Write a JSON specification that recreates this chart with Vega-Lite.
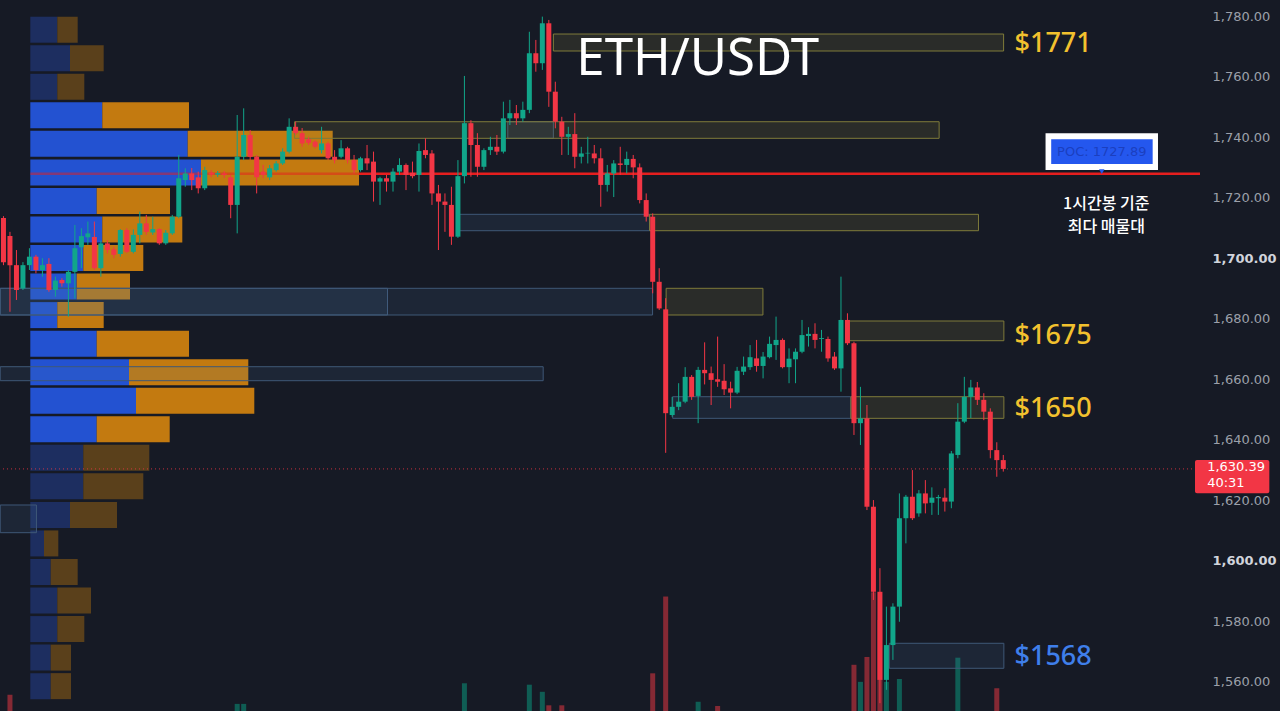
{
  "$schema": "https://vega.github.io/schema/vega-lite/v6.json",
  "width": 1200,
  "height": 711,
  "autosize": {"type": "none"},
  "padding": {"left": 0, "top": 0, "right": 80, "bottom": 0},
  "background": "#161a25",
  "config": {
    "view": {"stroke": null},
    "axisX": {"labels": false, "ticks": false, "domain": false, "grid": true, "gridColor": "#232734", "gridWidth": 1},
    "axisY": {"grid": true, "gridColor": "#232734", "gridWidth": 1, "domain": false, "ticks": false, "labelFont": "DejaVu Sans", "labelFontSize": 13, "labelPadding": 12}
  },
  "datasets": {
    "candles": [
      {"t":-1,"o":1713.3,"h":1713.9,"l":1697.7,"c":1698.7},
      {"t":0,"o":1707.3,"h":1708.7,"l":1682.3,"c":1697.7},
      {"t":1,"o":1697.7,"h":1702.7,"l":1686.2,"c":1689.5},
      {"t":2,"o":1690.0,"h":1698.7,"l":1689.5,"c":1697.7},
      {"t":3,"o":1697.7,"h":1703.3,"l":1696.1,"c":1700.5},
      {"t":4,"o":1700.5,"h":1701.1,"l":1695.0,"c":1696.1},
      {"t":5,"o":1696.1,"h":1700.0,"l":1693.9,"c":1697.7},
      {"t":6,"o":1698.1,"h":1700.0,"l":1688.9,"c":1689.5},
      {"t":7,"o":1689.5,"h":1693.9,"l":1687.3,"c":1692.6},
      {"t":8,"o":1692.8,"h":1693.4,"l":1690.6,"c":1691.7},
      {"t":9,"o":1691.7,"h":1696.1,"l":1680.7,"c":1695.5},
      {"t":10,"o":1695.5,"h":1711.0,"l":1686.7,"c":1703.3},
      {"t":11,"o":1703.6,"h":1709.9,"l":1696.7,"c":1707.3},
      {"t":12,"o":1706.9,"h":1712.1,"l":1704.4,"c":1708.2},
      {"t":13,"o":1707.0,"h":1712.1,"l":1696.1,"c":1696.7},
      {"t":14,"o":1696.7,"h":1705.8,"l":1693.9,"c":1704.9},
      {"t":15,"o":1704.9,"h":1706.0,"l":1701.6,"c":1702.7},
      {"t":16,"o":1702.9,"h":1703.8,"l":1700.0,"c":1701.1},
      {"t":17,"o":1701.4,"h":1709.6,"l":1700.5,"c":1709.3},
      {"t":18,"o":1709.3,"h":1709.9,"l":1701.7,"c":1702.1},
      {"t":19,"o":1702.1,"h":1709.5,"l":1701.6,"c":1707.7},
      {"t":20,"o":1707.7,"h":1715.4,"l":1704.9,"c":1711.5},
      {"t":21,"o":1711.5,"h":1714.3,"l":1707.7,"c":1708.7},
      {"t":22,"o":1708.5,"h":1713.7,"l":1707.7,"c":1709.6},
      {"t":23,"o":1709.6,"h":1709.9,"l":1704.4,"c":1704.9},
      {"t":24,"o":1704.9,"h":1709.3,"l":1704.4,"c":1708.4},
      {"t":25,"o":1708.2,"h":1714.3,"l":1707.7,"c":1713.7},
      {"t":26,"o":1713.7,"h":1734.1,"l":1713.2,"c":1726.4},
      {"t":27,"o":1725.8,"h":1729.7,"l":1723.6,"c":1728.0},
      {"t":28,"o":1728.0,"h":1729.8,"l":1722.5,"c":1725.8},
      {"t":29,"o":1726.7,"h":1728.6,"l":1721.4,"c":1723.1},
      {"t":30,"o":1723.1,"h":1730.2,"l":1722.5,"c":1729.1},
      {"t":31,"o":1728.3,"h":1729.1,"l":1726.8,"c":1727.6},
      {"t":32,"o":1727.6,"h":1728.8,"l":1726.8,"c":1728.1},
      {"t":33,"o":1728.0,"h":1728.8,"l":1726.5,"c":1727.5},
      {"t":34,"o":1726.7,"h":1727.5,"l":1713.2,"c":1717.6},
      {"t":35,"o":1717.6,"h":1747.3,"l":1708.2,"c":1733.5},
      {"t":36,"o":1733.5,"h":1749.5,"l":1732.4,"c":1740.7},
      {"t":37,"o":1740.7,"h":1742.3,"l":1732.4,"c":1733.5},
      {"t":38,"o":1733.5,"h":1734.1,"l":1721.4,"c":1726.7},
      {"t":39,"o":1728.6,"h":1730.8,"l":1726.4,"c":1727.5},
      {"t":40,"o":1726.7,"h":1730.8,"l":1725.8,"c":1729.7},
      {"t":41,"o":1729.1,"h":1732.1,"l":1728.6,"c":1731.3},
      {"t":42,"o":1731.3,"h":1736.3,"l":1730.8,"c":1735.2},
      {"t":43,"o":1735.2,"h":1746.2,"l":1734.6,"c":1743.4},
      {"t":44,"o":1743.4,"h":1745.1,"l":1740.7,"c":1741.3},
      {"t":45,"o":1741.3,"h":1743.0,"l":1736.8,"c":1737.9},
      {"t":46,"o":1739.3,"h":1740.1,"l":1737.4,"c":1738.1},
      {"t":47,"o":1738.5,"h":1739.0,"l":1736.3,"c":1736.8},
      {"t":48,"o":1735.7,"h":1743.4,"l":1734.6,"c":1737.9},
      {"t":49,"o":1737.9,"h":1738.5,"l":1732.4,"c":1733.0},
      {"t":50,"o":1733.5,"h":1735.7,"l":1731.3,"c":1732.4},
      {"t":51,"o":1733.5,"h":1739.0,"l":1733.0,"c":1736.3},
      {"t":52,"o":1736.3,"h":1736.8,"l":1731.3,"c":1732.4},
      {"t":53,"o":1732.4,"h":1734.1,"l":1728.0,"c":1729.1},
      {"t":54,"o":1729.1,"h":1733.5,"l":1728.6,"c":1733.0},
      {"t":55,"o":1733.0,"h":1737.4,"l":1729.1,"c":1731.3},
      {"t":56,"o":1731.9,"h":1735.2,"l":1718.7,"c":1725.3},
      {"t":57,"o":1725.3,"h":1726.9,"l":1717.6,"c":1726.4},
      {"t":58,"o":1726.4,"h":1727.5,"l":1722.0,"c":1725.3},
      {"t":59,"o":1725.3,"h":1729.7,"l":1722.0,"c":1728.6},
      {"t":60,"o":1728.6,"h":1733.0,"l":1727.5,"c":1730.8},
      {"t":61,"o":1730.8,"h":1731.3,"l":1722.5,"c":1727.5},
      {"t":62,"o":1728.2,"h":1731.9,"l":1726.4,"c":1727.1},
      {"t":63,"o":1727.5,"h":1737.9,"l":1722.0,"c":1735.4},
      {"t":64,"o":1735.7,"h":1739.6,"l":1733.0,"c":1734.1},
      {"t":65,"o":1734.6,"h":1735.7,"l":1717.6,"c":1721.4},
      {"t":66,"o":1721.4,"h":1724.2,"l":1702.7,"c":1718.7},
      {"t":67,"o":1718.7,"h":1721.4,"l":1708.7,"c":1717.6},
      {"t":68,"o":1717.6,"h":1723.6,"l":1704.4,"c":1707.1},
      {"t":69,"o":1707.1,"h":1732.4,"l":1706.7,"c":1727.1},
      {"t":70,"o":1727.1,"h":1760.2,"l":1724.7,"c":1744.6},
      {"t":71,"o":1744.6,"h":1745.6,"l":1726.9,"c":1737.4},
      {"t":72,"o":1737.4,"h":1741.3,"l":1726.9,"c":1730.2},
      {"t":73,"o":1730.2,"h":1736.3,"l":1729.1,"c":1735.7},
      {"t":74,"o":1735.7,"h":1740.1,"l":1734.1,"c":1736.8},
      {"t":75,"o":1736.8,"h":1740.7,"l":1734.1,"c":1735.2},
      {"t":76,"o":1735.2,"h":1751.7,"l":1734.6,"c":1746.2},
      {"t":77,"o":1746.2,"h":1752.3,"l":1744.0,"c":1747.9},
      {"t":78,"o":1747.9,"h":1750.6,"l":1744.0,"c":1746.2},
      {"t":79,"o":1746.2,"h":1751.7,"l":1745.1,"c":1749.0},
      {"t":80,"o":1749.0,"h":1774.8,"l":1747.9,"c":1767.7},
      {"t":81,"o":1767.7,"h":1772.1,"l":1761.6,"c":1764.4},
      {"t":82,"o":1764.4,"h":1779.8,"l":1762.2,"c":1777.6},
      {"t":83,"o":1777.6,"h":1778.7,"l":1750.0,"c":1755.0},
      {"t":84,"o":1755.0,"h":1758.3,"l":1742.9,"c":1745.1},
      {"t":85,"o":1745.1,"h":1746.7,"l":1734.1,"c":1740.1},
      {"t":86,"o":1740.1,"h":1743.4,"l":1734.1,"c":1741.0},
      {"t":87,"o":1741.0,"h":1747.9,"l":1729.7,"c":1733.5},
      {"t":88,"o":1733.5,"h":1736.8,"l":1731.3,"c":1734.6},
      {"t":89,"o":1734.6,"h":1740.1,"l":1731.3,"c":1734.8},
      {"t":90,"o":1734.6,"h":1737.4,"l":1731.3,"c":1733.0},
      {"t":91,"o":1733.0,"h":1736.3,"l":1717.0,"c":1724.2},
      {"t":92,"o":1724.2,"h":1730.8,"l":1722.0,"c":1728.0},
      {"t":93,"o":1728.0,"h":1732.4,"l":1720.2,"c":1731.3},
      {"t":94,"o":1731.3,"h":1736.8,"l":1727.5,"c":1730.8},
      {"t":95,"o":1730.8,"h":1735.2,"l":1728.0,"c":1732.8},
      {"t":96,"o":1732.8,"h":1734.1,"l":1726.4,"c":1730.0},
      {"t":97,"o":1730.0,"h":1731.3,"l":1718.1,"c":1719.2},
      {"t":98,"o":1719.2,"h":1721.4,"l":1712.1,"c":1713.7},
      {"t":99,"o":1713.7,"h":1714.8,"l":1688.4,"c":1692.2},
      {"t":100,"o":1692.2,"h":1696.7,"l":1682.9,"c":1683.4},
      {"t":101,"o":1683.1,"h":1686.8,"l":1635.7,"c":1648.8},
      {"t":102,"o":1648.2,"h":1654.2,"l":1647.6,"c":1650.9},
      {"t":103,"o":1650.9,"h":1658.7,"l":1649.8,"c":1652.6},
      {"t":104,"o":1652.6,"h":1664.0,"l":1652.1,"c":1660.8},
      {"t":105,"o":1660.8,"h":1661.4,"l":1653.2,"c":1654.2},
      {"t":106,"o":1654.5,"h":1664.1,"l":1645.5,"c":1663.1},
      {"t":107,"o":1663.1,"h":1672.2,"l":1658.3,"c":1662.0},
      {"t":108,"o":1662.0,"h":1664.2,"l":1651.5,"c":1659.8},
      {"t":109,"o":1660.0,"h":1674.1,"l":1657.5,"c":1659.2},
      {"t":110,"o":1659.5,"h":1665.0,"l":1654.8,"c":1656.7},
      {"t":111,"o":1657.0,"h":1659.2,"l":1650.4,"c":1655.6},
      {"t":112,"o":1655.6,"h":1664.1,"l":1655.1,"c":1662.8},
      {"t":113,"o":1662.5,"h":1667.5,"l":1661.4,"c":1664.2},
      {"t":114,"o":1664.0,"h":1671.3,"l":1663.1,"c":1667.3},
      {"t":115,"o":1666.9,"h":1673.0,"l":1662.5,"c":1664.4},
      {"t":116,"o":1664.4,"h":1669.0,"l":1660.3,"c":1667.5},
      {"t":117,"o":1667.3,"h":1674.1,"l":1666.9,"c":1671.7},
      {"t":118,"o":1671.3,"h":1680.7,"l":1666.4,"c":1673.0},
      {"t":119,"o":1673.0,"h":1673.5,"l":1663.6,"c":1664.0},
      {"t":120,"o":1664.0,"h":1670.2,"l":1658.7,"c":1666.8},
      {"t":121,"o":1666.6,"h":1670.2,"l":1658.7,"c":1669.1},
      {"t":122,"o":1669.1,"h":1679.6,"l":1668.6,"c":1674.6},
      {"t":123,"o":1674.3,"h":1677.2,"l":1670.8,"c":1675.0},
      {"t":124,"o":1675.0,"h":1678.5,"l":1670.2,"c":1673.0},
      {"t":125,"o":1673.3,"h":1676.3,"l":1669.1,"c":1673.6},
      {"t":126,"o":1673.3,"h":1674.1,"l":1665.8,"c":1666.9},
      {"t":127,"o":1667.5,"h":1669.0,"l":1663.1,"c":1663.6},
      {"t":128,"o":1663.6,"h":1693.9,"l":1655.9,"c":1679.6},
      {"t":129,"o":1679.6,"h":1681.8,"l":1671.3,"c":1671.9},
      {"t":130,"o":1671.9,"h":1672.4,"l":1641.6,"c":1645.5},
      {"t":131,"o":1645.5,"h":1657.5,"l":1638.3,"c":1647.1},
      {"t":132,"o":1647.1,"h":1651.5,"l":1616.8,"c":1617.9},
      {"t":133,"o":1617.9,"h":1620.1,"l":1587.1,"c":1589.8},
      {"t":134,"o":1589.8,"h":1597.6,"l":1553.0,"c":1560.7},
      {"t":135,"o":1560.7,"h":1584.9,"l":1557.4,"c":1572.2},
      {"t":136,"o":1572.2,"h":1586.0,"l":1567.3,"c":1584.9},
      {"t":137,"o":1584.9,"h":1622.3,"l":1579.9,"c":1614.1},
      {"t":138,"o":1614.1,"h":1621.8,"l":1605.8,"c":1621.2},
      {"t":139,"o":1621.2,"h":1630.0,"l":1613.5,"c":1614.1},
      {"t":140,"o":1615.7,"h":1623.4,"l":1614.6,"c":1622.3},
      {"t":141,"o":1622.3,"h":1626.7,"l":1615.7,"c":1619.0},
      {"t":142,"o":1619.2,"h":1624.3,"l":1615.2,"c":1620.9},
      {"t":143,"o":1620.7,"h":1621.8,"l":1615.2,"c":1621.1},
      {"t":144,"o":1620.9,"h":1624.0,"l":1616.3,"c":1619.6},
      {"t":145,"o":1619.6,"h":1636.3,"l":1617.4,"c":1635.5},
      {"t":146,"o":1635.0,"h":1652.1,"l":1633.9,"c":1646.0},
      {"t":147,"o":1646.0,"h":1660.8,"l":1645.5,"c":1654.2},
      {"t":148,"o":1654.2,"h":1659.8,"l":1647.2,"c":1657.3},
      {"t":149,"o":1657.3,"h":1659.1,"l":1651.5,"c":1653.2},
      {"t":150,"o":1653.2,"h":1655.4,"l":1646.5,"c":1649.3},
      {"t":151,"o":1649.3,"h":1650.4,"l":1633.9,"c":1636.6},
      {"t":152,"o":1636.6,"h":1639.2,"l":1627.8,"c":1633.3},
      {"t":153,"o":1633.3,"h":1635.0,"l":1629.5,"c":1630.39}
    ],
    "volume": [
      {"t":0,"v":2.3,"up":false},
      {"t":35,"v":1.0,"up":true},
      {"t":36,"v":1.0,"up":true},
      {"t":70,"v":3.9,"up":true},
      {"t":80,"v":3.7,"up":true},
      {"t":82,"v":2.7,"up":true},
      {"t":83,"v":0.8,"up":false},
      {"t":85,"v":0.8,"up":false},
      {"t":99,"v":5.3,"up":false},
      {"t":101,"v":16.1,"up":false},
      {"t":106,"v":1.3,"up":true},
      {"t":109,"v":0.7,"up":false},
      {"t":130,"v":6.5,"up":false},
      {"t":131,"v":4.1,"up":true},
      {"t":132,"v":7.6,"up":false},
      {"t":133,"v":16.7,"up":false},
      {"t":134,"v":12.8,"up":false},
      {"t":135,"v":4.1,"up":true},
      {"t":137,"v":4.5,"up":true},
      {"t":146,"v":7.5,"up":true},
      {"t":152,"v":3.2,"up":false}
    ],
    "profile": [
      {"hi":1779.77,"lo":1771.18,"buy":27,"total":47.4,"va":false},
      {"hi":1770.34,"lo":1761.75,"buy":39.7,"total":73.4,"va":false},
      {"hi":1760.91,"lo":1752.32,"buy":27,"total":54,"va":false},
      {"hi":1751.49,"lo":1742.90,"buy":72,"total":158.7,"va":true},
      {"hi":1742.06,"lo":1733.47,"buy":157.4,"total":302.4,"va":true},
      {"hi":1732.63,"lo":1724.04,"buy":170.7,"total":328.7,"va":true},
      {"hi":1723.20,"lo":1714.61,"buy":66.4,"total":139.7,"va":true},
      {"hi":1713.77,"lo":1705.18,"buy":72,"total":152,"va":true},
      {"hi":1704.35,"lo":1695.76,"buy":53,"total":113,"va":true},
      {"hi":1694.92,"lo":1686.33,"buy":46.4,"total":99.7,"va":true},
      {"hi":1685.49,"lo":1676.90,"buy":27,"total":73.4,"va":true},
      {"hi":1676.06,"lo":1667.47,"buy":66.4,"total":158.7,"va":true},
      {"hi":1666.63,"lo":1658.04,"buy":98.7,"total":218,"va":true},
      {"hi":1657.21,"lo":1648.62,"buy":105.7,"total":224,"va":true},
      {"hi":1647.78,"lo":1639.19,"buy":66.4,"total":139.4,"va":true},
      {"hi":1638.35,"lo":1629.76,"buy":53,"total":119,"va":false},
      {"hi":1628.92,"lo":1620.33,"buy":53,"total":113,"va":false},
      {"hi":1619.49,"lo":1610.90,"buy":39.7,"total":86.7,"va":false},
      {"hi":1610.07,"lo":1601.48,"buy":13.7,"total":28,"va":false},
      {"hi":1600.64,"lo":1592.05,"buy":20.4,"total":47.4,"va":false},
      {"hi":1591.21,"lo":1582.62,"buy":27,"total":60.7,"va":false},
      {"hi":1581.78,"lo":1573.19,"buy":27,"total":54,"va":false},
      {"hi":1572.35,"lo":1563.76,"buy":20.4,"total":40.7,"va":false},
      {"hi":1562.93,"lo":1554.34,"buy":20.4,"total":40.7,"va":false}
    ],
    "poc": [
      {"p":1727.89,"from":0,"to":328.7,"op":0.5},
      {"p":1727.89,"from":328.7,"to":1169.7,"op":1}
    ],
    "boxes": [
      {"t1":76.68,"t2":83.70,"p1":1745.08,"p2":1739.60,"k":"b"},
      {"t1":69.04,"t2":98.52,"p1":1714.49,"p2":1709.08,"k":"b"},
      {"t1":-1.5,"t2":58.15,"p1":1690.05,"p2":1681.23,"k":"b"},
      {"t1":-1.5,"t2":98.98,"p1":1690.05,"p2":1681.23,"k":"b"},
      {"t1":-1.5,"t2":82.13,"p1":1664.15,"p2":1659.53,"k":"b"},
      {"t1":102.08,"t2":129.53,"p1":1654.24,"p2":1647.10,"k":"b"},
      {"t1":-1.5,"t2":4.08,"p1":1618.47,"p2":1609.32,"k":"b"},
      {"t1":135.44,"t2":153.09,"p1":1572.79,"p2":1564.53,"k":"b"},
      {"t1":83.70,"t2":153.05,"p1":1774.05,"p2":1768.44,"k":"y"},
      {"t1":43.84,"t2":143.12,"p1":1745.08,"p2":1739.60,"k":"y"},
      {"t1":98.52,"t2":149.18,"p1":1714.49,"p2":1709.08,"k":"y"},
      {"t1":101.07,"t2":115.98,"p1":1690.05,"p2":1681.23,"k":"y"},
      {"t1":129.07,"t2":153.09,"p1":1679.25,"p2":1672.74,"k":"y"},
      {"t1":129.53,"t2":153.09,"p1":1654.24,"p2":1647.10,"k":"y"}
    ],
    "levels": [
      {"t":154.73,"p":1768.2,"text":"$1771","k":"y"},
      {"t":154.73,"p":1671.65,"text":"$1675","k":"y"},
      {"t":154.73,"p":1647.64,"text":"$1650","k":"y"},
      {"t":154.73,"p":1565.61,"text":"$1568","k":"b"}
    ],
    "title": [{"t":105.93,"p":1760.5,"text":"ETH/USDT"}],
    "note": [
      {"t":168.86,"p":1717.9,"text":"1시간봉 기준\n최다 매물대"}
    ],
    "pocbox": [
      {"t1":159.51,"t2":176.83,"p1":1741.25,"p2":1729.13,"k":"outer"},
      {"t1":160.38,"t2":176.01,"p1":1739.27,"p2":1731.11,"k":"inner"}
    ],
    "poctext": [{"t":168.17,"p":1735.17,"text":"POC: 1727.89","pt":1728.6}],
    "last": [{"p":1630.39}],
    "tag": [{"t1":182.53,"t2":193.98,"p1":1633.33,"p2":1622.33}],
    "tagtext": [
      {"t":184.4,"p":1631.12,"text":"1,630.39"},
      {"t":184.4,"p":1625.83,"text":"40:31"}
    ]
  },
  "resolve": {"scale": {"x": "independent", "y": "independent"}},
  "layer": [
    {
      "data": {"name": "volume"},
      "mark": {"type": "bar", "width": 5, "opacity": 0.6, "clip": true},
      "encoding": {
        "x": {"field": "t", "type": "quantitative", "scale": {"domain": [-0.764, 182.53]}, "axis": null},
        "y": {"field": "v", "type": "quantitative", "scale": {"domain": [0, 100]}, "axis": null},
        "color": {"condition": {"test": "datum.up", "value": "#0b8a74"}, "value": "#d0343f"}
      }
    },
    {
      "layer": [
        {
          "data": {"name": "profile"},
          "mark": {"type": "rect"},
          "encoding": {
            "x": {"field": "buy", "type": "quantitative", "scale": {"domain": [-30.3, 1169.7]}, "axis": null},
            "x2": {"datum": 0},
            "y": {"field": "hi", "type": "quantitative", "scale": {"domain": [1550.42, 1785.29]}, "axis": null},
            "y2": {"field": "lo"},
            "fill": {"condition": {"test": "datum.va", "value": "#2352d1"}, "value": "#1d2e60"}
          }
        },
        {
          "data": {"name": "profile"},
          "mark": {"type": "rect"},
          "encoding": {
            "x": {"field": "total", "type": "quantitative", "scale": {"domain": [-30.3, 1169.7]}, "axis": null},
            "x2": {"field": "buy"},
            "y": {"field": "hi", "type": "quantitative", "scale": {"domain": [1550.42, 1785.29]}, "axis": null},
            "y2": {"field": "lo"},
            "fill": {"condition": {"test": "datum.va", "value": "#c37a10"}, "value": "#5a401b"}
          }
        },
        {
          "data": {"name": "poc"},
          "mark": {"type": "rule", "color": "#e61e1e", "strokeWidth": 2.5},
          "encoding": {
            "x": {"field": "from", "type": "quantitative", "scale": {"domain": [-30.3, 1169.7]}, "axis": null},
            "x2": {"field": "to"},
            "y": {"field": "p", "type": "quantitative", "scale": {"domain": [1550.42, 1785.29]}, "axis": null},
            "opacity": {"field": "op", "type": "quantitative", "scale": null}
          }
        }
      ]
    },
    {
      "layer": [
        {
          "data": {"name": "boxes"},
          "mark": {"type": "rect", "clip": true, "strokeWidth": 1},
          "encoding": {
            "x": {"field": "t1", "type": "quantitative", "title": null, "scale": {"domain": [-0.764, 182.53]},
                  "axis": {"values": [12, 36, 60, 84, 108, 132, 156, 180]}},
            "x2": {"field": "t2"},
            "y": {"field": "p1", "type": "quantitative", "title": null, "scale": {"domain": [1550.42, 1785.29], "zero": false, "nice": false},
                  "axis": {"orient": "right", "values": [1560, 1580, 1600, 1620, 1640, 1660, 1680, 1700, 1720, 1740, 1760, 1780], "format": ",.2f",
                           "labelFontWeight": {"condition": {"test": "datum.value % 100 === 0", "value": "bold"}, "value": "normal"},
                           "labelColor": {"condition": {"test": "datum.value % 100 === 0", "value": "#d1d4dc"}, "value": "#9ca0aa"}}},
            "y2": {"field": "p2"},
            "fill": {"condition": {"test": "datum.k === 'y'", "value": "rgba(150,140,60,0.16)"}, "value": "rgba(80,120,170,0.13)"},
            "stroke": {"condition": {"test": "datum.k === 'y'", "value": "#7f7b3a"}, "value": "#3f5877"}
          }
        },
        {
          "data": {"name": "candles"},
          "mark": {"type": "rule", "strokeWidth": 1, "clip": true},
          "encoding": {
            "x": {"field": "t", "type": "quantitative", "title": null, "scale": {"domain": [-0.764, 182.53]}},
            "y": {"field": "l", "type": "quantitative", "title": null, "scale": {"domain": [1550.42, 1785.29], "zero": false, "nice": false}},
            "y2": {"field": "h"},
            "color": {"condition": {"test": "datum.c >= datum.o", "value": "#11a68a"}, "value": "#f23645"}
          }
        },
        {
          "data": {"name": "candles"},
          "mark": {"type": "bar", "width": 5, "clip": true},
          "encoding": {
            "x": {"field": "t", "type": "quantitative", "title": null, "scale": {"domain": [-0.764, 182.53]}},
            "y": {"field": "o", "type": "quantitative", "title": null, "scale": {"domain": [1550.42, 1785.29], "zero": false, "nice": false}},
            "y2": {"field": "c"},
            "color": {"condition": {"test": "datum.c >= datum.o", "value": "#11a68a"}, "value": "#f23645"}
          }
        },
        {
          "data": {"name": "last"},
          "mark": {"type": "rule", "color": "#f23645", "strokeWidth": 1, "strokeDash": [1, 3], "opacity": 0.8},
          "encoding": {
            "y": {"field": "p", "type": "quantitative", "title": null, "scale": {"domain": [1550.42, 1785.29], "zero": false, "nice": false}}
          }
        },
        {
          "data": {"name": "title"},
          "mark": {"type": "text", "font": "Noto Sans", "fontSize": 51, "color": "#ffffff", "align": "center", "baseline": "alphabetic"},
          "encoding": {
            "x": {"field": "t", "type": "quantitative", "title": null, "scale": {"domain": [-0.764, 182.53]}},
            "y": {"field": "p", "type": "quantitative", "title": null, "scale": {"domain": [1550.42, 1785.29], "zero": false, "nice": false}},
            "text": {"field": "text"}
          }
        },
        {
          "data": {"name": "levels"},
          "mark": {"type": "text", "font": "Noto Sans", "fontSize": 27, "fontWeight": 500, "align": "left", "baseline": "alphabetic"},
          "encoding": {
            "x": {"field": "t", "type": "quantitative", "title": null, "scale": {"domain": [-0.764, 182.53]}},
            "y": {"field": "p", "type": "quantitative", "title": null, "scale": {"domain": [1550.42, 1785.29], "zero": false, "nice": false}},
            "text": {"field": "text"},
            "color": {"condition": {"test": "datum.k === 'y'", "value": "#f2c12e"}, "value": "#3f7fea"}
          }
        },
        {
          "data": {"name": "note"},
          "mark": {"type": "text", "font": "Noto Sans CJK KR", "fontSize": 16, "fontWeight": 500, "color": "#ffffff", "align": "center", "baseline": "middle", "lineBreak": "\n", "lineHeight": 23},
          "encoding": {
            "x": {"field": "t", "type": "quantitative", "title": null, "scale": {"domain": [-0.764, 182.53]}},
            "y": {"field": "p", "type": "quantitative", "title": null, "scale": {"domain": [1550.42, 1785.29], "zero": false, "nice": false}},
            "text": {"field": "text"}
          }
        },
        {
          "data": {"name": "pocbox"},
          "mark": {"type": "rect"},
          "encoding": {
            "x": {"field": "t1", "type": "quantitative", "title": null, "scale": {"domain": [-0.764, 182.53]}},
            "x2": {"field": "t2"},
            "y": {"field": "p1", "type": "quantitative", "title": null, "scale": {"domain": [1550.42, 1785.29], "zero": false, "nice": false}},
            "y2": {"field": "p2"},
            "fill": {"condition": {"test": "datum.k === 'outer'", "value": "#ffffff"}, "value": "#2457ee"}
          }
        },
        {
          "data": {"name": "poctext"},
          "mark": {"type": "point", "shape": "triangle-down", "size": 30, "filled": true, "color": "#2457ee", "opacity": 1},
          "encoding": {
            "x": {"field": "t", "type": "quantitative", "title": null, "scale": {"domain": [-0.764, 182.53]}},
            "y": {"field": "pt", "type": "quantitative", "title": null, "scale": {"domain": [1550.42, 1785.29], "zero": false, "nice": false}}
          }
        },
        {
          "data": {"name": "poctext"},
          "mark": {"type": "text", "font": "DejaVu Sans", "fontSize": 13, "color": "#1b3fbf", "align": "center", "baseline": "middle"},
          "encoding": {
            "x": {"field": "t", "type": "quantitative", "title": null, "scale": {"domain": [-0.764, 182.53]}},
            "y": {"field": "p", "type": "quantitative", "title": null, "scale": {"domain": [1550.42, 1785.29], "zero": false, "nice": false}},
            "text": {"field": "text"}
          }
        },
        {
          "data": {"name": "tag"},
          "mark": {"type": "rect", "color": "#f23645", "cornerRadius": 2},
          "encoding": {
            "x": {"field": "t1", "type": "quantitative", "title": null, "scale": {"domain": [-0.764, 182.53]}},
            "x2": {"field": "t2"},
            "y": {"field": "p1", "type": "quantitative", "title": null, "scale": {"domain": [1550.42, 1785.29], "zero": false, "nice": false}},
            "y2": {"field": "p2"}
          }
        },
        {
          "data": {"name": "tagtext"},
          "mark": {"type": "text", "font": "DejaVu Sans", "fontSize": 13, "color": "#ffffff", "align": "left", "baseline": "middle"},
          "encoding": {
            "x": {"field": "t", "type": "quantitative", "title": null, "scale": {"domain": [-0.764, 182.53]}},
            "y": {"field": "p", "type": "quantitative", "title": null, "scale": {"domain": [1550.42, 1785.29], "zero": false, "nice": false}},
            "text": {"field": "text"}
          }
        }
      ]
    }
  ]
}
